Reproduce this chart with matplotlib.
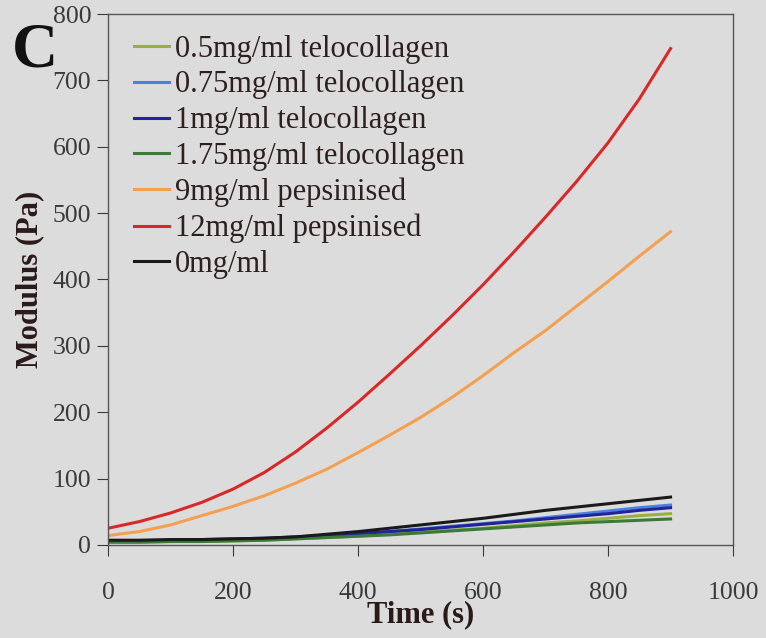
import matplotlib
matplotlib.use("Agg")
import matplotlib.pyplot as plt

time_s = [0, 50, 100, 150, 200, 250, 300, 350, 400, 450, 500, 550, 600, 650, 700, 750, 800, 850, 900]

tel_05 = [4, 4, 5, 5, 6, 7, 9, 11, 13, 16, 19, 22, 25, 29, 33, 36, 40, 44, 47]
tel_075 = [5, 6, 6, 7, 8, 9, 11, 14, 17, 20, 24, 28, 32, 36, 41, 46, 51, 56, 60]
tel_1 = [6, 6, 7, 8, 9, 10, 12, 14, 17, 20, 23, 27, 31, 35, 39, 43, 47, 52, 56]
tel_175 = [4, 4, 5, 5, 6, 7, 9, 11, 13, 15, 18, 21, 24, 27, 30, 33, 35, 37, 39]
pep_9 = [14, 20, 30, 44, 58, 74, 93, 114, 139, 165, 192, 222, 255, 290, 323, 360, 397, 435, 472]
pep_12 = [25, 35, 48, 64, 84, 109, 140, 176, 215, 257, 300, 345, 392, 442, 494, 548, 606, 672, 748]
zero = [7, 7, 8, 8, 9, 10, 12, 16, 20, 25, 30, 35, 40, 46, 52, 57, 62, 67, 72]

labels = ["0.5mg/ml telocollagen", "0.75mg/ml telocollagen", "1mg/ml telocollagen",
          "1.75mg/ml telocollagen", "9mg/ml pepsinised", "12mg/ml pepsinised", "0mg/ml"]
series = [tel_05, tel_075, tel_1, tel_175, pep_9, pep_12, zero]
colors = ["#98b040", "#4a80e0", "#23239a", "#3c7a38", "#f4a050", "#d82828", "#1a1a1a"]

x_ticks = [0, 200, 400, 600, 800, 1000]
y_ticks = [0, 100, 200, 300, 400, 500, 600, 700, 800]

plt.rcParams['font.family'] = ['Liberation Serif', 'DejaVu Serif']
bg = "#dcdcdc"
fig = plt.figure(figsize=(7.66, 6.38), dpi=100, facecolor=bg)
ax = fig.add_axes([0.141, 0.146, 0.816, 0.832])
ax.set_facecolor(bg)

for vals, lab, col in zip(series, labels, colors):
    ax.plot(time_s, vals, color=col, lw=2.2, label=lab)

ax.set_xlim(0, 1000)
ax.set_ylim(0, 800)
ax.set_xticks(x_ticks)
ax.set_yticks(y_ticks)
ax.tick_params(axis='x', direction='out', length=8, pad=19, labelsize=18.5, colors='#3a3a3a')
ax.tick_params(axis='y', direction='out', length=8, pad=4, labelsize=18.5, colors='#3a3a3a')
for sp in ax.spines.values():
    sp.set_color('#555555')
    sp.set_linewidth(1.0)

ax.set_xlabel("Time (s)", fontsize=22, fontweight='bold', labelpad=-3, color='#2a1a1a')
ax.set_ylabel("Modulus (Pa)", fontsize=22, fontweight='bold', labelpad=6, color='#2a1a1a')

leg = ax.legend(loc='upper left', frameon=False, fontsize=22, handlelength=1.15,
                handletextpad=0.2, labelspacing=0.22, borderaxespad=0.0,
                bbox_to_anchor=(0.022, 0.984))
for t in leg.get_texts():
    t.set_color('#2e2020')

fig.text(0.016, 0.895, "C", fontsize=46, fontweight='bold', color='#111111')

fig.savefig("out.png", dpi=100, facecolor=bg)
